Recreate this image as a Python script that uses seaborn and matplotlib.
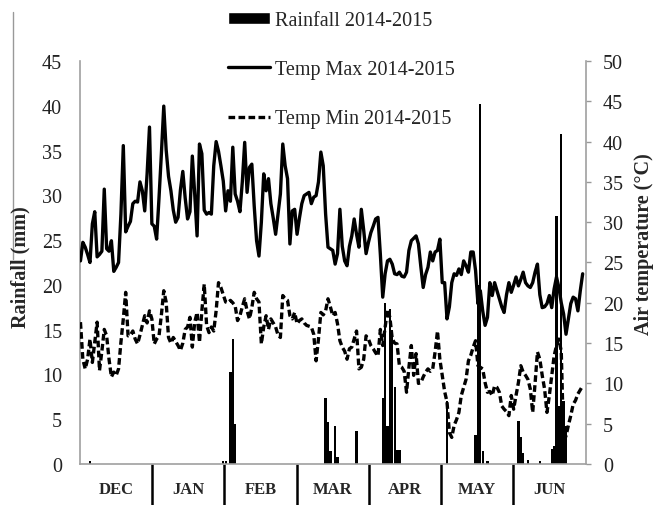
import numpy as np
import pandas as pd
import matplotlib
matplotlib.use("Agg")
import matplotlib.pyplot as plt
from matplotlib.patches import Patch
from matplotlib.lines import Line2D
import seaborn as sns

# Daily values, 1 Dec 2014 - 30 Jun 2015 (212 days)
tmax = [25.2, 27.5, 26.9, 26.0, 25.0, 29.8, 31.3, 25.7, 26.0, 26.4,
        34.1, 26.7, 26.4, 27.7, 23.9, 24.4, 25.0, 31.0, 39.5, 28.8,
        29.5, 30.1, 32.3, 32.6, 32.5, 35.0, 33.9, 31.4, 36.0, 41.8,
        29.8, 29.5, 27.9, 33.0, 38.5, 44.4, 39.0, 35.7, 33.9, 31.5,
        30.0, 30.6, 34.0, 36.3, 33.0, 30.4, 31.3, 38.2, 33.5, 28.3,
        39.7, 38.5, 31.5, 31.0, 31.2, 31.0, 37.0, 40.0, 38.8, 37.0,
        35.1, 31.4, 33.9, 32.6, 39.3, 33.5, 32.6, 31.3, 35.0, 39.9,
        33.7, 36.8, 37.2, 32.0, 27.7, 25.8, 30.0, 36.0, 33.9, 35.4,
        32.3, 30.5, 28.5, 31.0, 33.5, 39.7, 37.0, 35.4, 27.3, 31.4,
        31.6, 28.5, 30.5, 32.3, 33.3, 33.5, 33.7, 32.3, 33.1, 33.3,
        35.0, 38.7, 37.0, 31.0, 26.9, 26.7, 26.5, 24.8, 26.1, 31.6,
        27.0, 25.2, 24.6, 27.0, 28.3, 30.4, 28.5, 26.9, 31.6, 29.0,
        26.1, 27.5, 28.7, 29.5, 30.4, 30.6, 26.0, 20.7, 23.6, 25.2,
        25.4, 24.8, 23.6, 23.5, 23.8, 23.3, 23.2, 23.8, 26.5, 27.7,
        28.0, 28.3, 27.3, 24.5, 21.9, 23.5, 24.4, 26.3, 25.2, 26.3,
        26.5, 27.9, 22.5, 22.5, 18.0, 19.5, 22.5, 23.6, 23.4, 24.2,
        23.5, 25.2, 24.6, 23.8, 26.3, 26.3, 24.0, 19.9, 21.5, 19.0,
        17.2, 18.2, 22.5, 20.9, 22.5, 21.5, 20.5, 19.5, 18.8, 21.0,
        22.5, 21.3, 22.2, 23.2, 22.1, 22.9, 23.8, 22.5, 22.1, 21.9,
        22.5, 23.8, 24.8, 21.0, 19.4, 19.5, 19.9, 20.9, 19.4, 21.7,
        23.2, 21.9, 20.0, 18.6, 16.1, 18.0, 19.9, 20.7, 20.5, 19.0,
        21.5, 23.6]

tmin = [17.6, 13.0, 11.8, 13.0, 15.5, 12.6, 15.1, 17.6, 11.6, 14.0,
        16.7, 15.9, 13.0, 10.8, 11.4, 11.0, 11.8, 15.1, 18.0, 21.3,
        15.9, 16.0, 16.5, 15.5, 14.9, 16.0, 17.2, 18.4, 17.5, 19.0,
        18.0, 14.9, 15.5, 15.9, 18.5, 21.5, 20.1, 15.7, 15.0, 15.7,
        15.2, 14.7, 14.1, 15.0, 16.7, 17.0, 18.2, 14.5, 17.6, 18.8,
        15.1, 19.0, 22.3, 17.2, 16.3, 17.0, 16.5, 19.0, 22.5, 21.9,
        21.0, 20.1, 20.0, 20.3, 20.0, 19.6, 17.8, 18.4, 19.5, 20.5,
        19.0, 18.0, 19.4, 21.3, 20.5, 20.1, 14.9, 17.0, 18.4, 16.7,
        18.0, 17.5, 17.0, 16.0, 15.7, 20.9, 20.5, 20.3, 18.4, 18.0,
        18.8, 17.4, 17.8, 18.0, 17.5, 17.2, 17.1, 17.0, 16.1, 12.8,
        15.5, 18.8, 18.5, 19.0, 20.5, 19.5, 18.4, 18.8, 17.4, 15.3,
        14.5, 14.0, 13.0, 14.3, 14.5, 15.5, 16.5, 11.8, 12.0, 13.0,
        15.9, 15.5, 14.7, 14.3, 13.8, 13.4, 16.7, 14.7, 17.0, 19.2,
        18.2, 15.5, 15.0, 14.9, 12.2, 12.0, 11.5, 8.9, 12.0, 14.7,
        11.0, 13.7, 10.0, 10.1, 10.8, 11.4, 11.8, 11.5, 11.8, 13.9,
        16.5, 13.0, 11.0, 9.0, 7.7, 3.9, 3.3, 4.8, 5.5, 6.4,
        8.5, 9.5, 10.5, 12.8, 13.5, 14.5, 15.3, 12.2, 12.0, 11.8,
        10.1, 8.9, 9.0, 8.5, 9.7, 9.5, 8.9, 7.2, 6.8, 6.5,
        6.0, 8.5, 6.8, 8.5, 10.1, 12.2, 11.4, 11.0, 10.5, 9.3,
        6.4, 10.0, 13.9, 13.0, 11.0, 9.3, 6.4, 8.5, 11.0, 13.4,
        14.7, 15.5, 14.0, 2.7, 3.5, 4.8, 6.0, 7.4, 7.9, 8.7,
        9.2, 9.7]

# rainy days only (day index from 1 Dec) and amount in mm
rain_days = [4, 60, 61, 63, 64, 65, 103, 104, 105, 107, 108, 116,
             127, 128, 129, 130, 131, 132, 133, 134, 154,
             166, 167, 168, 169, 171, 184, 185, 186, 188, 193,
             198, 199, 200, 201, 202, 203, 204]
rain_mm = [0.3, 0.3, 0.3, 10.3, 14.0, 4.5, 7.4, 4.7, 1.5, 4.2, 0.8, 3.7,
           7.4, 18.0, 4.3, 17.3, 15.0, 8.6, 1.6, 1.6, 7.0,
           3.2, 20.0, 40.2, 1.5, 0.3, 4.8, 3.0, 1.2, 0.5, 0.3,
           1.7, 2.0, 27.7, 6.5, 36.8, 7.0, 4.3]

months = ["DEC", "JAN", "FEB", "MAR", "APR", "MAY", "JUN"]

# build daily table
df = pd.DataFrame({"day": np.arange(len(tmax)), "tmax": tmax, "tmin": tmin})
df["rain"] = 0.0
df.loc[rain_days, "rain"] = rain_mm

sns.set_theme(style="white")
plt.rcParams["font.family"] = ["Liberation Serif", "DejaVu Serif"]

fig = plt.figure(figsize=(6.54, 5.06), dpi=100)
ax = fig.add_axes([0.1223, 0.0810, 0.7730, 0.7965])

sns.barplot(data=df, x="day", y="rain", color="black", width=0.95,
            saturation=1, linewidth=0, native_scale=True, ax=ax)

dash = (0, (2.0, 1.0))
ax2 = ax.twinx()
sns.lineplot(data=df, x="day", y="tmax", color="black", lw=2.4, ax=ax2)
sns.lineplot(data=df, x="day", y="tmin", color="black", lw=2.4,
             ls=dash, ax=ax2)

x0, x1 = -0.2, 212.2
ax.set_xlim(x0, x1)
ax.set_ylim(0, 45)
ax2.set_ylim(0, 50)
ax.set_yticks(range(0, 46, 5))
ax2.set_yticks(range(0, 51, 5))

# month separators and labels
step = (x1 - x0) / 7
bounds = [x0 + k * step for k in range(1, 7)]
centers = [x0 + (k + 0.5) * step for k in range(7)]
ax.set_xticks(bounds)
ax.set_xticklabels([""] * len(bounds))
ax.set_xticks(centers, minor=True)
ax.set_xticklabels(months, minor=True, fontweight="bold", fontsize=12)
ax.tick_params(axis="x", which="major", bottom=True, length=29.5, width=1.8,
               color="black", direction="out")
ax.tick_params(axis="x", which="minor", bottom=True, length=0, pad=12)

ax.tick_params(axis="y", left=False, length=0, pad=13, labelsize=14.5,
               labelcolor="#222")
ax2.tick_params(axis="y", right=True, length=3.5, width=1, color="#999",
                pad=9, labelsize=14.5, labelcolor="#222", direction="out")

ax.set_xlabel("")
ax.set_ylabel("")
ax2.set_ylabel("")

for s in ["top", "right"]:
    ax.spines[s].set_visible(False)
for s in ["left", "bottom"]:
    ax.spines[s].set_color("#a0a0a0")
    ax.spines[s].set_linewidth(1.2)
for s in ["top", "left", "bottom"]:
    ax2.spines[s].set_visible(False)
ax2.spines["right"].set_color("#a0a0a0")
ax2.spines["right"].set_linewidth(1.2)

fig.text(20 / 654, 1 - 267 / 506, "Rainfall (mm)", rotation=90,
         ha="center", va="center", fontsize=14.5, fontweight="bold")
fig.text(644 / 654, 1 - 244 / 506, "Air temperature (°C)", rotation=90,
         ha="center", va="center", fontsize=14.5, fontweight="bold")

handles = [Patch(facecolor="black"),
           Line2D([], [], color="black", lw=2.4),
           Line2D([], [], color="black", lw=2.4, ls=dash)]
labels = ["Rainfall 2014-2015", "Temp Max 2014-2015", "Temp Min 2014-2015"]
fig.legend(handles, labels, loc="upper left",
           bbox_to_anchor=(228 / 654, 1 - 12 / 506), frameon=False,
           fontsize=14.5, handlelength=2.1, handleheight=0.6,
           handletextpad=0.25, labelspacing=1.5, borderpad=0,
           borderaxespad=0)

# stray frame line at the far left
fig.add_artist(Line2D([0.0194, 0.0194], [0.974, 0.486], color="#999", lw=1))

fig.savefig("out.png", dpi=100)
